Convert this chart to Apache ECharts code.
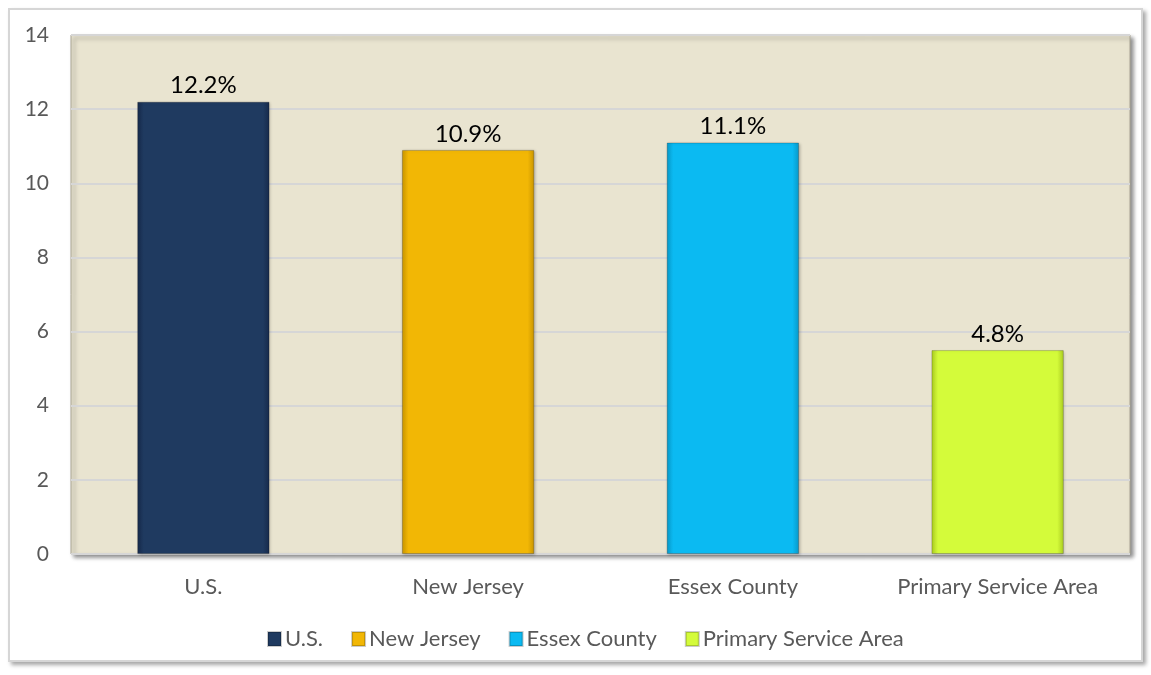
<!DOCTYPE html>
<html>
<head>
<meta charset="utf-8">
<script src="https://cdn.jsdelivr.net/npm/echarts@6/dist/echarts.min.js"></script>
<style>
html,body{margin:0;padding:0;background:#fff;}
#frame{position:absolute;left:8px;top:8px;width:1131px;height:650px;border:2px solid #d6d6d6;box-shadow:3px 3px 4px rgba(0,0,0,0.35);background:#fff;}
#chart{position:absolute;left:0;top:0;width:1151px;height:675px;}
</style>
</head>
<body>
<div id="frame"></div>
<div id="chart"></div>
<script>
const categories = ['U.S.', 'New Jersey', 'Essex County', 'Primary Service Area'];
const values = [12.2, 10.9, 11.1, 5.5];
const valueLabels = ['12.2%', '10.9%', '11.1%', '4.8%'];
const colors = ['#1F3A60', '#F2B705', '#0BBAF2', '#D4FB3A'];
const edgeColors = ['#16294A', '#C99500', '#0898C8', '#AACB20'];
const yTicks = { min: 0, max: 14, interval: 2 };

const FONT = 'Lato, Open Sans, sans-serif';

const series = categories.map((name, i) => ({
  name: name,
  type: 'bar',
  stack: 'all',
  barWidth: '50%',
  data: categories.map((c, j) => (j === i ? values[i] : null)),
  itemStyle: {
    color: {
      type: 'linear', x: 0, y: 0, x2: 1, y2: 0,
      colorStops: [
        { offset: 0, color: edgeColors[i] },
        { offset: 0.05, color: colors[i] },
        { offset: 0.95, color: colors[i] },
        { offset: 1, color: edgeColors[i] }
      ]
    },
    borderColor: 'rgba(0,0,0,0.2)',
    borderWidth: 1,
    shadowColor: 'rgba(0,0,0,0.25)',
    shadowBlur: 3,
    shadowOffsetX: 1,
    shadowOffsetY: 1
  },
  label: {
    show: true,
    position: 'top',
    distance: 4,
    color: '#000',
    fontSize: 24,
    fontFamily: FONT,
    formatter: (p) => valueLabels[p.dataIndex]
  }
}));

const chart = echarts.init(document.getElementById('chart'));
chart.setOption({
  animation: false,
  backgroundColor: 'transparent',
  grid: {
    left: 71, right: 21, top: 35, bottom: 121,
    show: true,
    backgroundColor: '#E9E4D0',
    borderColor: '#A8A392',
    borderWidth: 1,
    shadowColor: 'rgba(0,0,0,0.45)',
    shadowBlur: 4,
    shadowOffsetX: 3,
    shadowOffsetY: 3
  },
  legend: {
    top: 623,
    left: 262,
    itemWidth: 13,
    itemHeight: 14,
    itemGap: 28,
    icon: 'rect',
    textStyle: { color: '#595959', fontSize: 22, fontFamily: FONT, padding: [0, 0, 0, -1] },
    data: categories
  },
  xAxis: {
    type: 'category',
    data: categories,
    axisLine: { show: false },
    axisTick: { show: false },
    axisLabel: { color: '#595959', fontSize: 22, margin: 22, fontFamily: FONT }
  },
  yAxis: {
    type: 'value',
    min: yTicks.min, max: yTicks.max, interval: yTicks.interval,
    axisLine: { show: false },
    axisTick: { show: false },
    splitLine: { lineStyle: { color: '#D6D6D6', width: 2 } },
    axisLabel: { color: '#595959', fontSize: 21, margin: 22, fontFamily: FONT }
  },
  series: series
});
</script>
</body>
</html>
